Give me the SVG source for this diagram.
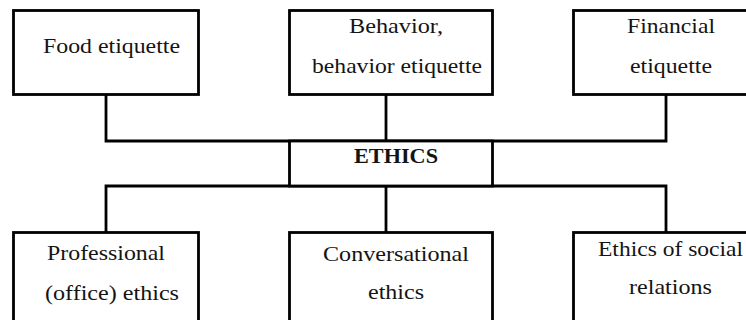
<svg xmlns="http://www.w3.org/2000/svg" width="746" height="320" viewBox="0 0 746 320">
  <style>
    .box { fill: #ffffff; stroke: #000000; stroke-width: 2.8; }
    .wire { fill: none; stroke: #000000; stroke-width: 2.8; stroke-linecap: square; }
    .label { font-size: 21px; fill: #141414; }
    .title { font-weight: bold; }
  </style>
  <rect width="746" height="320" fill="#ffffff"/>

  <!-- connectors: tree lines joining the etiquette branches to ETHICS -->
  <g id="connectors">
    <polyline class="wire" points="106,94.5 106,141 666,141 666,94.5"/>
    <line class="wire" x1="386" y1="94.5" x2="386" y2="141"/>
    <polyline class="wire" points="106,232.5 106,186 666,186 666,232.5"/>
    <line class="wire" x1="386" y1="186" x2="386" y2="232.5"/>
  </g>

  <g font-family="Times New Roman, Liberation Serif, Tinos, DejaVu Serif, serif" font-weight="400">
    <!-- top row -->
    <g id="food-etiquette">
      <rect class="box" x="13.5" y="10.5" width="185" height="84"/>
      <text class="label" x="43" y="53" textLength="137" lengthAdjust="spacingAndGlyphs">Food etiquette</text>
    </g>
    <g id="behavior-etiquette">
      <rect class="box" x="289.5" y="10.5" width="203" height="84"/>
      <text class="label" x="349" y="33" textLength="94" lengthAdjust="spacingAndGlyphs">Behavior,</text>
      <text class="label" x="312" y="73" textLength="170" lengthAdjust="spacingAndGlyphs">behavior etiquette</text>
    </g>
    <g id="financial-etiquette">
      <rect class="box" x="573.5" y="10.5" width="185" height="84"/>
      <text class="label" x="627" y="33" textLength="88" lengthAdjust="spacingAndGlyphs">Financial</text>
      <text class="label" x="630" y="73" textLength="82" lengthAdjust="spacingAndGlyphs">etiquette</text>
    </g>

    <!-- centre -->
    <g id="ethics">
      <rect class="box" x="289.5" y="141" width="203" height="45"/>
      <text class="label title" x="354" y="163" textLength="84" lengthAdjust="spacingAndGlyphs">ETHICS</text>
    </g>

    <!-- bottom row -->
    <g id="professional-ethics">
      <rect class="box" x="13.5" y="232.5" width="185" height="100"/>
      <text class="label" x="47" y="260" textLength="118" lengthAdjust="spacingAndGlyphs">Professional</text>
      <text class="label" x="45" y="300" textLength="134" lengthAdjust="spacingAndGlyphs">(office) ethics</text>
    </g>
    <g id="conversational-ethics">
      <rect class="box" x="289.5" y="232.5" width="203" height="100"/>
      <text class="label" x="323" y="261" textLength="146" lengthAdjust="spacingAndGlyphs">Conversational</text>
      <text class="label" x="368" y="299" textLength="56" lengthAdjust="spacingAndGlyphs">ethics</text>
    </g>
    <g id="social-relations-ethics">
      <rect class="box" x="573.5" y="232.5" width="185" height="100"/>
      <text class="label" x="598" y="256" textLength="145" lengthAdjust="spacingAndGlyphs">Ethics of social</text>
      <text class="label" x="629" y="294" textLength="83" lengthAdjust="spacingAndGlyphs">relations</text>
    </g>
  </g>
</svg>
